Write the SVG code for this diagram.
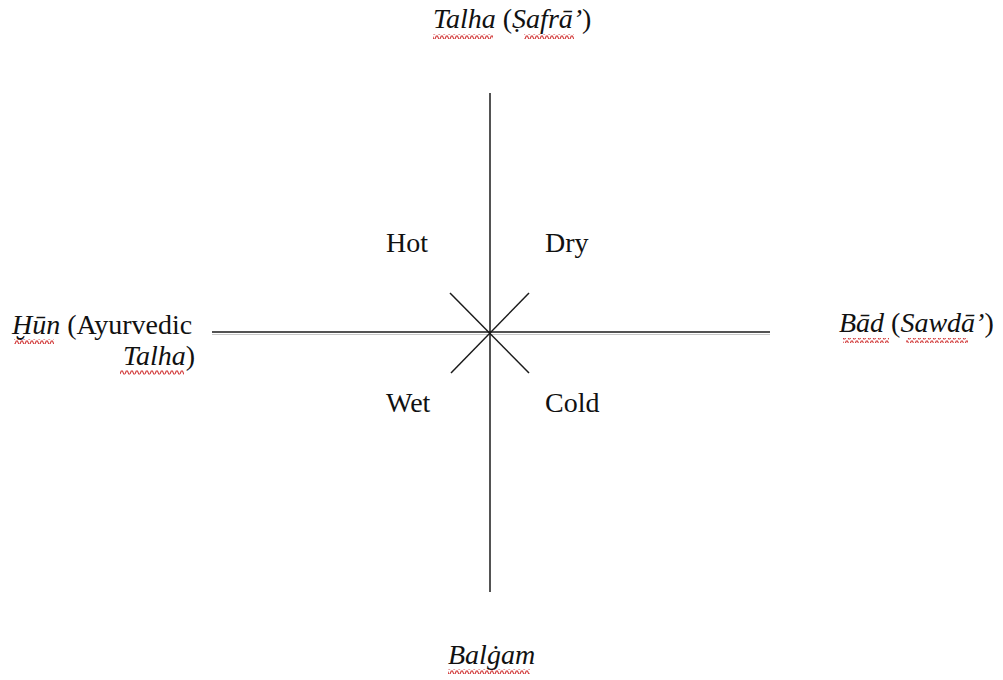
<svg xmlns="http://www.w3.org/2000/svg" width="1003" height="680" viewBox="0 0 1003 680">
<style>
.t{font-family:'Liberation Serif','Times New Roman',serif;font-size:28px;fill:#111}
.i{font-style:italic}
.ax{stroke:#1a1a1a;stroke-width:1.5;fill:none}
.sh{stroke:#c8c8c8;stroke-width:1.2;fill:none}
.wv{fill:url(#wave)}
</style>
<defs>
<pattern id="wave" x="0" y="0" width="5" height="5" patternUnits="userSpaceOnUse">
<path d="M0,4 L1.25,1 L2.5,1 L3.75,4 L5,4" stroke="#d23a3a" stroke-width="1.1" fill="none"/>
</pattern>
</defs>
<rect width="1003" height="680" fill="#fff"/>
<g id="connectors">
<line class="sh" x1="212" y1="334.5" x2="770" y2="334.5"/>
<line class="ax" x1="212" y1="332" x2="770" y2="332"/>
<line class="ax" x1="490" y1="93" x2="490" y2="592"/>
<line class="ax" x1="450" y1="293" x2="529" y2="373"/>
<line class="ax" x1="529" y1="293" x2="451" y2="373"/>
</g>
<g id="top">
<text class="t" x="433" y="28"><tspan class="i">Talha</tspan> (<tspan class="i">Ṣafrā’</tspan>)</text>
<rect class="wv" x="433" y="34" width="60" height="5"/>
<rect class="wv" x="524" y="34" width="50" height="5"/>
</g>
<g id="left">
<text class="t" x="12" y="334"><tspan class="i">Ḫūn</tspan> (Ayurvedic</text>
<text class="t" x="195" y="365" text-anchor="end"><tspan class="i">Talha</tspan>)</text>
<rect class="wv" x="14" y="339" width="40" height="5"/>
<rect class="wv" x="120" y="370" width="64" height="5"/>
</g>
<g id="right">
<text class="t" x="839" y="332"><tspan class="i">Bād</tspan> (<tspan class="i">Sawdā’</tspan>)</text>
<rect class="wv" x="843" y="338" width="46" height="5"/>
<rect class="wv" x="906" y="338" width="62" height="5"/>
</g>
<g id="bottom">
<text class="t i" x="448" y="664">Balġam</text>
<rect class="wv" x="448" y="669" width="82" height="5"/>
</g>
<g id="hot"><text class="t" x="386" y="252">Hot</text></g>
<g id="dry"><text class="t" x="545" y="252">Dry</text></g>
<g id="wet"><text class="t" x="386" y="412">Wet</text></g>
<g id="cold"><text class="t" x="545" y="412">Cold</text></g>
</svg>
